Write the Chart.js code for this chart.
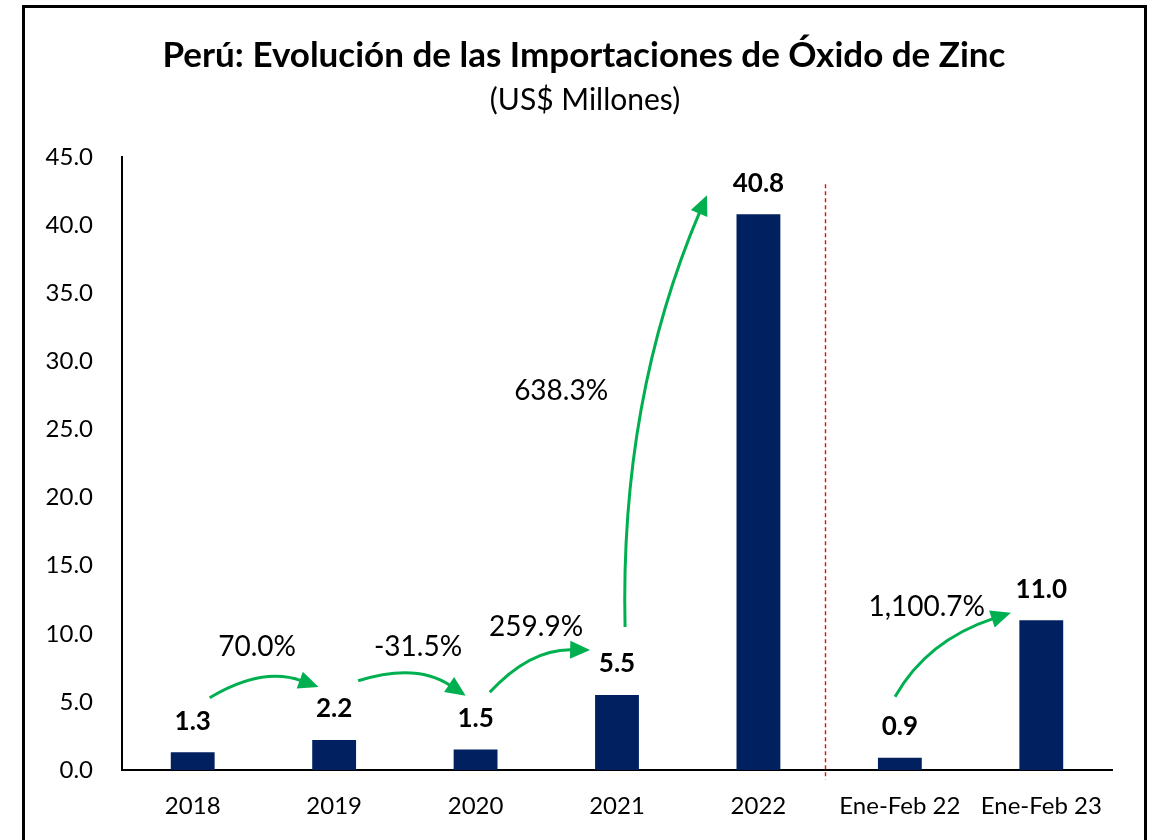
<!DOCTYPE html>
<html>
<head>
<meta charset="utf-8">
<script src="https://cdn.jsdelivr.net/npm/chart.js@4"></script>
<style>
html,body{margin:0;padding:0;background:#fff;}
#wrap{position:absolute;left:0;top:0;width:1154px;height:840px;}
</style>
</head>
<body>
<div id="wrap"><canvas id="c" width="1154" height="840"></canvas></div>
<script>
const titleText = 'Perú: Evolución de las Importaciones de Óxido de Zinc';
const subtitleText = '(US$ Millones)';
const categories = ['2018','2019','2020','2021','2022','Ene-Feb 22','Ene-Feb 23'];
const values = [1.3, 2.2, 1.5, 5.5, 40.8, 0.9, 11.0];
const yTicksMin = 0, yTicksMax = 45, yTicksStep = 5;

// growth annotations: label + arrow path in data space (category index, value)
const growthLabels = ['70.0%','-31.5%','259.9%','638.3%','1,100.7%'];
const labelAt   = [[0.455,9.0],[1.593,9.0],[2.428,10.5],[2.605,27.8],[5.19,12.0]];
const arrowFrom = [[0.12,5.3],[1.17,6.55],[2.10,5.7],[3.057,10.5],[4.966,5.37]];
const arrowCtrl = [[0.49,7.6],[1.58,7.9],[2.385,8.9],[3.02,27.2],[5.19,9.5]];
const arrowTo   = [[0.89,6.1],[1.93,5.45],[2.81,8.8],[3.636,42.2],[5.785,11.54]];
const separatorAt = 4.47;      // between "2022" and "Ene-Feb 22"
const separatorRange = [43.0, -0.7];

const FONT = 'Lato, "Noto Sans", sans-serif';
const GREEN = '#00B050';
const NAVY = '#002060';

const decor = {
  id: 'decor',
  beforeDraw(chart){
    const ctx = chart.ctx;
    ctx.save();
    ctx.fillStyle = '#fff';
    ctx.fillRect(0,0,chart.width,chart.height);
    ctx.restore();
  },
  afterDatasetsDraw(chart){
    const ctx = chart.ctx;
    const xs = chart.scales.x, ys = chart.scales.y;
    const P = (p)=>[xs.getPixelForValue(p[0]), ys.getPixelForValue(p[1])];
    ctx.save();
    // separator
    ctx.strokeStyle = '#FF0000';
    ctx.lineWidth = 1.4;
    ctx.setLineDash([4,3]);
    ctx.beginPath();
    const sx = Math.round(xs.getPixelForValue(separatorAt)) + 0.5;
    ctx.moveTo(sx, ys.getPixelForValue(separatorRange[0]));
    ctx.lineTo(sx, ys.getPixelForValue(separatorRange[1]));
    ctx.stroke();
    ctx.setLineDash([]);
    // data labels
    const meta = chart.getDatasetMeta(0);
    ctx.fillStyle = '#000';
    ctx.font = 'bold 26px ' + FONT;
    ctx.textAlign = 'center';
    ctx.textBaseline = 'middle';
    meta.data.forEach((bar,i)=>{
      ctx.fillText(values[i].toFixed(1), bar.x, bar.y - 31);
    });
    // arrows
    ctx.strokeStyle = GREEN;
    ctx.fillStyle = GREEN;
    ctx.lineWidth = 3;
    for(let i=0;i<arrowFrom.length;i++){
      const s = P(arrowFrom[i]), c = P(arrowCtrl[i]), e = P(arrowTo[i]);
      const ang = Math.atan2(e[1]-c[1], e[0]-c[0]);
      const L = 20, W = 9;
      const bx = e[0] - L*Math.cos(ang), by = e[1] - L*Math.sin(ang);
      ctx.beginPath();
      ctx.moveTo(s[0], s[1]);
      ctx.quadraticCurveTo(c[0], c[1], bx + 2*Math.cos(ang), by + 2*Math.sin(ang));
      ctx.stroke();
      ctx.beginPath();
      ctx.moveTo(e[0], e[1]);
      ctx.lineTo(bx + W*Math.sin(ang), by - W*Math.cos(ang));
      ctx.lineTo(bx - W*Math.sin(ang), by + W*Math.cos(ang));
      ctx.closePath();
      ctx.fill();
    }
    // growth labels
    ctx.fillStyle = '#000';
    ctx.font = '28px ' + FONT;
    ctx.textAlign = 'center';
    ctx.textBaseline = 'middle';
    growthLabels.forEach((t,i)=>{
      const p = P(labelAt[i]);
      ctx.fillText(t, p[0], p[1]);
    });
    ctx.restore();
  },
  afterDraw(chart){
    const ctx = chart.ctx;
    ctx.save();
    ctx.fillStyle = '#000';
    ctx.textAlign = 'center';
    ctx.textBaseline = 'alphabetic';
    ctx.font = 'bold 35px ' + FONT;
    ctx.fillText(titleText, 584, 67);
    ctx.font = '30px ' + FONT;
    ctx.fillText(subtitleText, 585, 110);
    ctx.strokeStyle = '#000';
    ctx.lineWidth = 3;
    ctx.strokeRect(23.5, 6.5, 1122, 860);
    ctx.restore();
  }
};

new Chart(document.getElementById('c'), {
  type: 'bar',
  data: {
    labels: categories,
    datasets: [{
      data: values,
      backgroundColor: NAVY,
      borderWidth: 0,
      barPercentage: 0.31,
      categoryPercentage: 1.0
    }]
  },
  options: {
    responsive: false,
    animation: false,
    devicePixelRatio: 1,
    layout: { padding: { top: 157, right: 42, bottom: 0, left: 0 } },
    plugins: { legend: { display: false }, tooltip: { enabled: false }, title: { display: false } },
    scales: {
      x: {
        grid: { display: false, drawTicks: false },
        border: { display: true, color: '#000', width: 2 },
        ticks: { color: '#000', font: { family: FONT, size: 24 }, padding: 22, maxRotation: 0, autoSkip: false },
        afterFit(s){ s.height = 70; }
      },
      y: {
        min: yTicksMin, max: yTicksMax,
        grid: { display: false, drawTicks: false },
        border: { display: true, color: '#000', width: 2 },
        ticks: { stepSize: yTicksStep, color: '#000', font: { family: FONT, size: 24 }, padding: 29,
                 callback: v => Number(v).toFixed(1) },
        afterFit(s){ s.width = 122; }
      }
    }
  },
  plugins: [decor]
});
</script>
</body>
</html>
